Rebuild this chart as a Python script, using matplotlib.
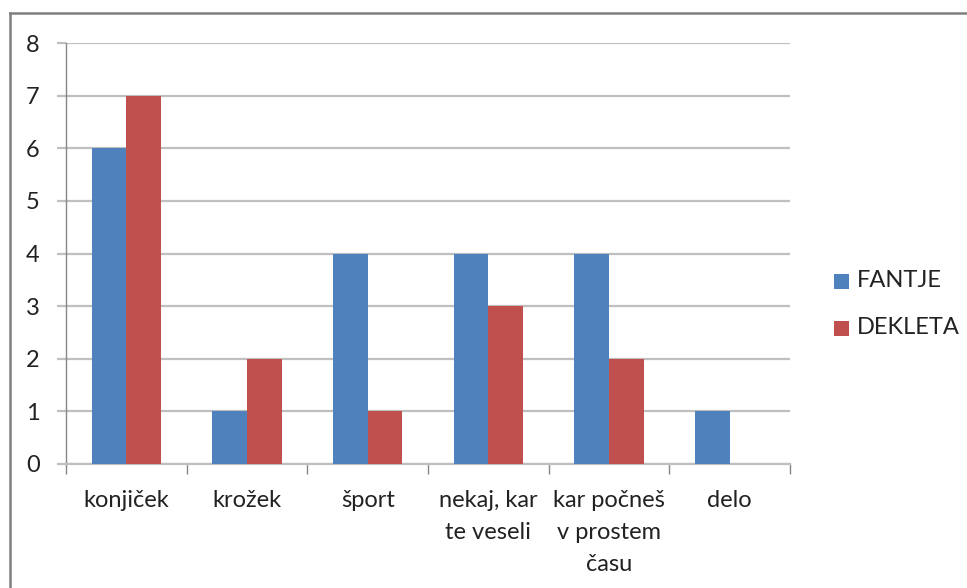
import matplotlib
matplotlib.use("Agg")
import matplotlib.pyplot as plt
from matplotlib.patches import Rectangle
from matplotlib.lines import Line2D
import numpy as np

categories = ["konjiček", "krožek", "šport", "nekaj, kar\nte veseli", "kar počneš\nv prostem\nčasu", "delo"]
fantje = [6, 1, 4, 4, 4, 1]
dekleta = [7, 2, 1, 3, 2, 0]
series_names = ["FANTJE", "DEKLETA"]
colors = ["#4F81BD", "#C0504D"]
yticks = [0, 1, 2, 3, 4, 5, 6, 7, 8]

W, H = 967, 588
FS = 17
plt.rcParams['font.family'] = ['Lato', 'DejaVu Sans']
fig = plt.figure(figsize=(W/100, H/100), dpi=100)
fig.patch.set_facecolor("white")

def fx(px): return px / W
def fy(py): return 1 - py / H

ax = fig.add_axes([fx(66), fy(464), fx(790) - fx(66), fy(43) - fy(464)])
x = np.arange(len(categories))
bw = 0.286
ax.bar(x - bw/2, fantje, width=bw, color=colors[0], zorder=3)
ax.bar(x + bw/2, dekleta, width=bw, color=colors[1], zorder=3)

ax.set_xlim(-0.5, len(categories) - 0.5)
ax.set_ylim(0, 8)
ax.set_yticks(yticks)
ax.set_yticklabels([str(v) for v in yticks])
ax.yaxis.grid(True, color="#BFBFBF", linewidth=1.6, zorder=0)
ax.set_axisbelow(True)

ax.set_xticks(np.arange(-0.5, len(categories), 1.0))
ax.set_xticklabels([])
ax.set_xticks(x, minor=True)
ax.set_xticklabels(categories, minor=True, fontsize=FS, color="#222222", linespacing=1.66, va="top")
ax.tick_params(axis="x", which="major", length=7, color="#868686", width=1)
ax.tick_params(axis="x", which="minor", length=0, pad=18.5)
ax.tick_params(axis="y", length=6.5, color="#BFBFBF", width=1.6, labelsize=FS, labelcolor="#222222", pad=12.5)

for s in ["top", "right"]:
    ax.spines[s].set_visible(False)
ax.spines["left"].set_color("#868686")
ax.spines["left"].set_linewidth(1)
ax.spines["bottom"].set_color("#BFBFBF")
ax.spines["bottom"].set_linewidth(1.6)

# legend
leg_y = [281, 328]
for name, c, yy in zip(series_names, colors, leg_y):
    fig.patches.append(Rectangle((fx(834), fy(yy + 8)), fx(849) - fx(834), fy(yy - 7) - fy(yy + 8),
                                 transform=fig.transFigure, facecolor=c, edgecolor="none"))
    fig.text(fx(857), fy(yy), name, fontsize=FS, color="#222222", va="center", ha="left")

# outer border
fig.add_artist(Line2D([fx(10), 1.0], [fy(13), fy(13)], color="#7F7F7F", linewidth=1.8, transform=fig.transFigure))
fig.add_artist(Line2D([fx(10), fx(10)], [fy(13), 0.0], color="#7F7F7F", linewidth=1.8, transform=fig.transFigure))

fig.savefig("out.png", dpi=100)
